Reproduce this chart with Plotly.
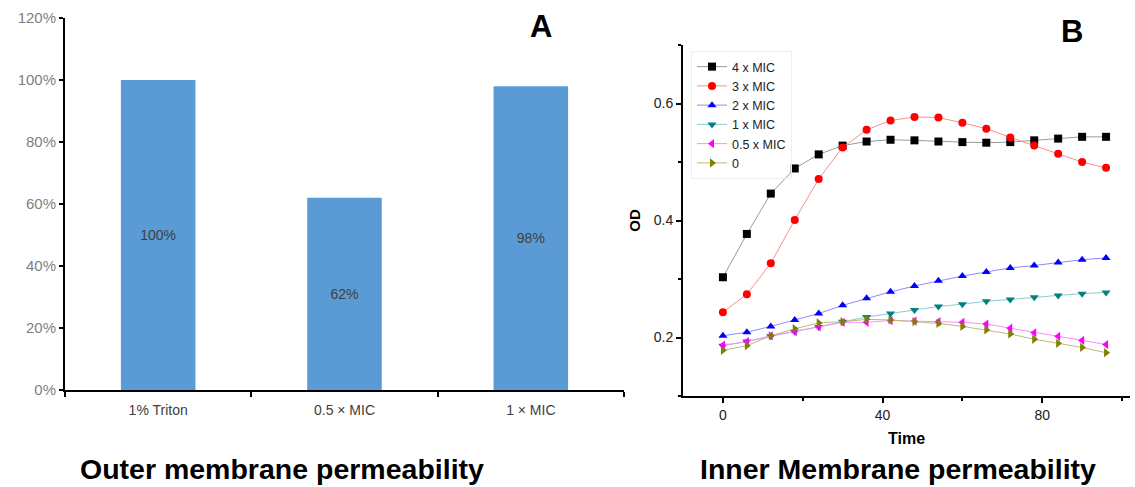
import plotly.graph_objects as go

W, H = 1135, 487

# ---- Panel A data ----
categories = ["1% Triton", "0.5 × MIC", "1 × MIC"]
permeability = [1.00, 0.62, 0.98]
bar_labels = ["100%", "62%", "98%"]

# ---- Panel B data ----
time = [0, 6, 12, 18, 24, 30, 36, 42, 48, 54, 60, 66, 72, 78, 84, 90, 96]
od_4mic = [0.303, 0.377, 0.446, 0.489, 0.513, 0.528, 0.535, 0.538, 0.537, 0.535, 0.534, 0.533, 0.534, 0.537, 0.540, 0.543, 0.543]
od_3mic = [0.243, 0.274, 0.327, 0.401, 0.471, 0.525, 0.555, 0.571, 0.577, 0.576, 0.567, 0.557, 0.542, 0.528, 0.514, 0.500, 0.490]
od_2mic = [0.203, 0.209, 0.219, 0.230, 0.241, 0.255, 0.267, 0.278, 0.288, 0.297, 0.305, 0.312, 0.319, 0.323, 0.328, 0.333, 0.336]
od_1mic = [0.186, 0.193, 0.202, 0.210, 0.218, 0.227, 0.235, 0.241, 0.247, 0.253, 0.257, 0.262, 0.265, 0.269, 0.272, 0.275, 0.277]
od_05mic = [0.187, 0.193, 0.203, 0.210, 0.218, 0.226, 0.226, 0.229, 0.228, 0.227, 0.226, 0.223, 0.216, 0.208, 0.202, 0.195, 0.188]
od_0 = [0.178, 0.186, 0.203, 0.215, 0.225, 0.227, 0.231, 0.230, 0.227, 0.224, 0.219, 0.213, 0.206, 0.197, 0.190, 0.183, 0.174]

series_names = ["4 x MIC", "3 x MIC", "2 x MIC", "1 x MIC", "0.5 x MIC", "0"]
series_values = [od_4mic, od_3mic, od_2mic, od_1mic, od_05mic, od_0]
marker_colors = ["#000000", "#ff0000", "#0000ff", "#008080", "#ff00ff", "#808000"]
line_colors = ["#9a9a9a", "#ff8c8c", "#8c8cff", "#8ccccc", "#ff8cff", "#bcbc7a"]
symbols = ["square", "circle", "triangle-up", "triangle-down", "triangle-left", "triangle-right"]

FONT = "Liberation Sans, Arial, sans-serif"

fig = go.Figure()

fig.add_trace(go.Bar(
    x=categories, y=permeability, text=bar_labels,
    textposition="inside", insidetextanchor="middle", textangle=0,
    textfont=dict(size=14, color="#404040", family=FONT),
    marker=dict(color="#5B9BD5", line=dict(width=0)),
    width=0.4, xaxis="x", yaxis="y", showlegend=False,
))

for name, vals, mc, lc, sym in zip(series_names, series_values, marker_colors, line_colors, symbols):
    fig.add_trace(go.Scatter(
        x=time, y=vals, name=name, mode="lines+markers",
        line=dict(color=lc, width=1),
        marker=dict(symbol=sym, color=mc, size=8, line=dict(width=0)),
        xaxis="x2", yaxis="y2",
    ))

def fx(px):
    return px / W

def fy(py):
    return (H - py) / H

fig.update_layout(
    template="none",
    width=W, height=H,
    margin=dict(l=0, r=0, t=0, b=0, pad=0, autoexpand=False),
    paper_bgcolor="white", plot_bgcolor="white",
    font=dict(family=FONT, color="#000000"),
    xaxis=dict(
        domain=[fx(65), fx(624)], anchor="y", automargin=False,
        showline=True, linecolor="#000000", linewidth=2,
        ticks="outside", tickson="boundaries", ticklen=5, tickwidth=2, tickcolor="#000000",
        tickfont=dict(size=14, color="#404040"), ticklabelstandoff=6,
        showgrid=False, zeroline=False,
    ),
    yaxis=dict(
        domain=[fy(390), fy(18)], anchor="x", range=[0, 1.2], automargin=False,
        tickvals=[0, 0.2, 0.4, 0.6, 0.8, 1.0, 1.2], tickformat=".0%",
        showline=True, linecolor="#000000", linewidth=2,
        ticks="outside", ticklen=4, tickwidth=2, tickcolor="#000000",
        tickfont=dict(size=15, color="#7f7f7f"),
        showgrid=False, zeroline=False,
    ),
    xaxis2=dict(
        domain=[fx(683), fx(1130)], anchor="y2", range=[-10, 102], automargin=False,
        tickvals=[0, 40, 80],
        minor=dict(tickvals=[20, 60, 100], ticks="outside", ticklen=3, tickwidth=2, tickcolor="#000000"),
        showline=True, linecolor="#000000", linewidth=2,
        ticks="outside", ticklen=5, tickwidth=2, tickcolor="#000000",
        tickfont=dict(size=14, color="#222222"),
        title=dict(text="<b>Time</b>", font=dict(size=16), standoff=11),
        showgrid=False, zeroline=False,
    ),
    yaxis2=dict(
        domain=[fy(396), fy(45)], anchor="x2", range=[0.1, 0.7], automargin=False,
        tickvals=[0.2, 0.4, 0.6],
        minor=dict(tickvals=[0.1, 0.3, 0.5, 0.7], ticks="outside", ticklen=3, tickwidth=2, tickcolor="#000000"),
        showline=True, linecolor="#000000", linewidth=2,
        ticks="outside", ticklen=5, tickwidth=2, tickcolor="#000000",
        tickfont=dict(size=14, color="#222222"),
        title=dict(text="<b>OD</b>", font=dict(size=15), standoff=9),
        showgrid=False, zeroline=False,
    ),
    legend=dict(
        x=fx(691), y=fy(51), xanchor="left", yanchor="top",
        bgcolor="rgba(255,255,255,0)", bordercolor="#eeeeee", borderwidth=1,
        font=dict(size=12.5, color="#222222"),
        tracegroupgap=0, itemwidth=30,
    ),
    annotations=[
        dict(text="<b>A</b>", x=fx(540.5), y=fy(27), xref="paper", yref="paper",
             xanchor="center", yanchor="middle",
             showarrow=False, font=dict(size=31, color="#000000")),
        dict(text="<b>B</b>", x=fx(1072), y=fy(31), xref="paper", yref="paper",
             xanchor="center", yanchor="middle",
             showarrow=False, font=dict(size=31, color="#000000")),
        dict(text="<b>Outer membrane permeability</b>", x=fx(282), y=fy(469), xref="paper", yref="paper",
             xanchor="center", yanchor="middle",
             showarrow=False, font=dict(size=28.5, color="#000000")),
        dict(text="<b>Inner Membrane permeability</b>", x=fx(898), y=fy(469), xref="paper", yref="paper",
             xanchor="center", yanchor="middle",
             showarrow=False, font=dict(size=28.5, color="#000000")),
    ],
)

fig.write_html("out.html")
